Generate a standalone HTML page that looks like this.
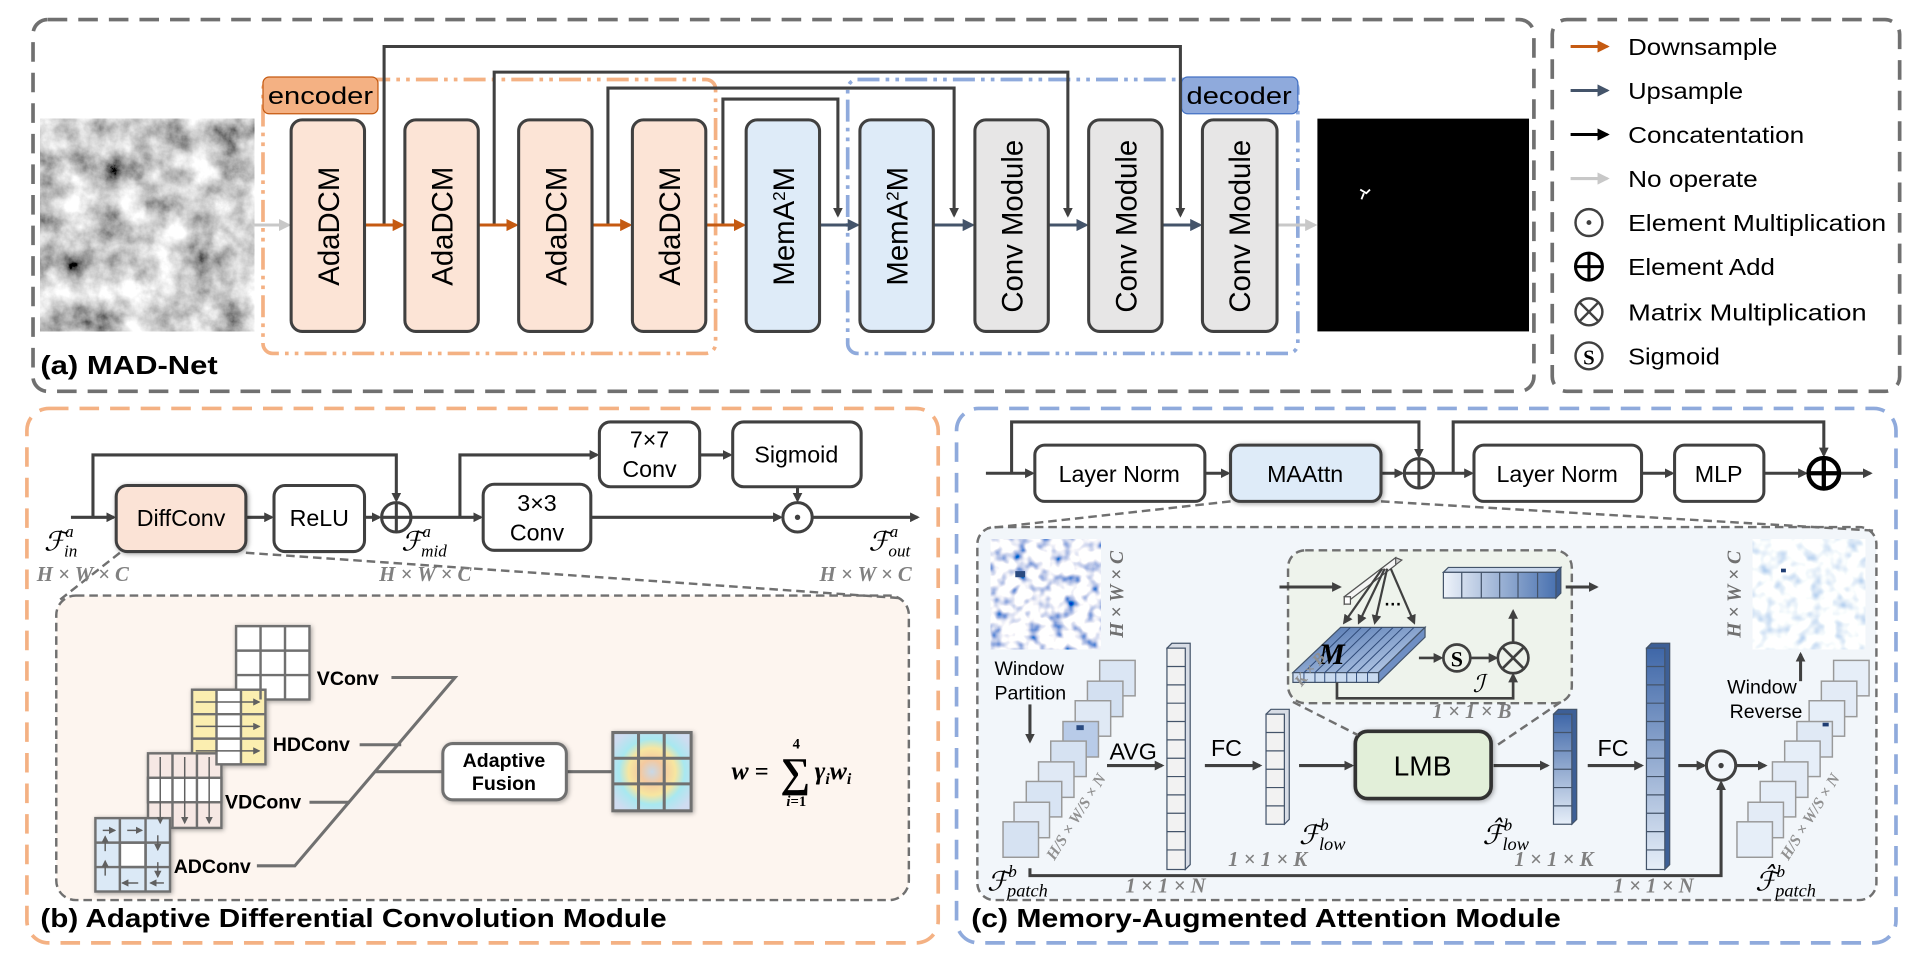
<!DOCTYPE html>
<html><head><meta charset="utf-8"><style>
html,body{margin:0;padding:0;background:#fff;}
svg{display:block;}
text{font-family:"Liberation Sans",sans-serif;}
.m text, text.m{font-family:"Liberation Serif",serif;font-style:italic;}
.sf text, text.sf{font-family:"Liberation Serif",serif;}
</style></head><body>
<svg width="1918" height="960" viewBox="0 0 1568 785" preserveAspectRatio="none" xmlns="http://www.w3.org/2000/svg">
<defs>
<marker id="ad" markerWidth="8" markerHeight="8" refX="6" refY="4" orient="auto" markerUnits="userSpaceOnUse"><path d="M0,0 L8,4 L0,8 z" fill="#404040"/></marker>
<marker id="ak" markerWidth="10" markerHeight="10" refX="8" refY="5" orient="auto" markerUnits="userSpaceOnUse"><path d="M0,0 L10,5 L0,10 z" fill="#000"/></marker>
<marker id="ao" markerWidth="10" markerHeight="10" refX="8" refY="5" orient="auto" markerUnits="userSpaceOnUse"><path d="M0,0 L10,5 L0,10 z" fill="#c55a11"/></marker>
<marker id="ab" markerWidth="10" markerHeight="10" refX="8" refY="5" orient="auto" markerUnits="userSpaceOnUse"><path d="M0,0 L10,5 L0,10 z" fill="#44546a"/></marker>
<marker id="ag" markerWidth="10" markerHeight="10" refX="8" refY="5" orient="auto" markerUnits="userSpaceOnUse"><path d="M0,0 L10,5 L0,10 z" fill="#c8c8c8"/></marker>
<marker id="as" markerWidth="6" markerHeight="6" refX="5" refY="3" orient="auto" markerUnits="userSpaceOnUse"><path d="M0,0 L6,3 L0,6 z" fill="#606060"/></marker>
<filter id="cloud" x="0" y="0" width="100%" height="100%"><feTurbulence type="fractalNoise" baseFrequency="0.04" numOctaves="5" seed="3"/><feColorMatrix type="matrix" values="1.6 0 0 0 -0.18  1.6 0 0 0 -0.18  1.6 0 0 0 -0.18  0 0 0 0 1"/></filter>
<filter id="heat" x="0" y="0" width="100%" height="100%"><feTurbulence type="fractalNoise" baseFrequency="0.1" numOctaves="2" seed="7"/><feColorMatrix type="matrix" values="-3.2 0 0 0 2.5  -2.6 0 0 0 2.2  -1.1 0 0 0 1.5  0 0 0 0 1"/></filter>
<filter id="heat2" x="0" y="0" width="100%" height="100%"><feTurbulence type="fractalNoise" baseFrequency="0.1" numOctaves="2" seed="11"/><feColorMatrix type="matrix" values="-1.4 0 0 0 1.65  -1.0 0 0 0 1.48  -0.35 0 0 0 1.16  0 0 0 0 1"/></filter>
<filter id="sh"><feDropShadow dx="1" dy="1" stdDeviation="2" flood-color="#000" flood-opacity="0.35"/></filter>
<radialGradient id="fus" cx="50%" cy="50%" r="60%"><stop offset="0" stop-color="#c8d8e8"/><stop offset="0.25" stop-color="#f4c9a0"/><stop offset="0.5" stop-color="#f7e6a0"/><stop offset="0.7" stop-color="#a8e8f0"/><stop offset="1" stop-color="#cfdcf0"/></radialGradient>
<linearGradient id="bvD" x1="0" y1="0" x2="0" y2="1"><stop offset="0" stop-color="#3f67a8"/><stop offset="1" stop-color="#e6eef8"/></linearGradient>
<linearGradient id="bvH" x1="0" y1="0" x2="1" y2="0"><stop offset="0" stop-color="#eef3fa"/><stop offset="1" stop-color="#4a72b0"/></linearGradient>
<linearGradient id="mat" x1="0" y1="0" x2="1" y2="1"><stop offset="0" stop-color="#4a70ad"/><stop offset="1" stop-color="#c5d6ee"/></linearGradient>
</defs>

<!-- ===== Panel (a) ===== -->
<rect x="27" y="16" width="1227" height="304" rx="12" fill="none" stroke="#707070" stroke-width="3" stroke-dasharray="16 9"/>
<rect x="1269" y="16" width="284" height="304" rx="12" fill="none" stroke="#707070" stroke-width="3" stroke-dasharray="16 9"/>

<rect x="33" y="97" width="175" height="174" fill="#888" filter="url(#cloud)"/>

<rect x="215" y="65" width="370" height="224" rx="8" fill="none" stroke="#f4b183" stroke-width="3" stroke-dasharray="18 5 3 5 3 5"/>
<rect x="693" y="65" width="368" height="224" rx="8" fill="none" stroke="#8faadc" stroke-width="3" stroke-dasharray="18 5 3 5 3 5"/>
<rect x="215" y="63" width="94" height="30" rx="5" fill="#f4b183" stroke="#c55a11" stroke-width="1"/>
<text x="262" y="85" font-size="20" text-anchor="middle" textLength="86" lengthAdjust="spacingAndGlyphs">encoder</text>
<rect x="966" y="63" width="95" height="30" rx="5" fill="#8faadc" stroke="#4472c4" stroke-width="1"/>
<text x="1013" y="85" font-size="20" text-anchor="middle" textLength="86" lengthAdjust="spacingAndGlyphs">decoder</text>

<g fill="none" stroke="#404040" stroke-width="2.5">
<polyline points="314,184 314,38 965,38 965,176" marker-end="url(#ad)"/>
<polyline points="404,184 404,59 873,59 873,176" marker-end="url(#ad)"/>
<polyline points="497,184 497,72 780,72 780,176" marker-end="url(#ad)"/>
<polyline points="591,184 591,81 685,81 685,176" marker-end="url(#ad)"/>
</g>
<g stroke-width="2.5">
<line x1="208" y1="184" x2="236" y2="184" stroke="#c8c8c8" marker-end="url(#ag)"/>
<line x1="298" y1="184" x2="329" y2="184" stroke="#c55a11" marker-end="url(#ao)"/>
<line x1="391" y1="184" x2="422" y2="184" stroke="#c55a11" marker-end="url(#ao)"/>
<line x1="484" y1="184" x2="515" y2="184" stroke="#c55a11" marker-end="url(#ao)"/>
<line x1="577" y1="184" x2="608" y2="184" stroke="#c55a11" marker-end="url(#ao)"/>
<line x1="670" y1="184" x2="701" y2="184" stroke="#44546a" marker-end="url(#ab)"/>
<line x1="763" y1="184" x2="795" y2="184" stroke="#44546a" marker-end="url(#ab)"/>
<line x1="857" y1="184" x2="888" y2="184" stroke="#44546a" marker-end="url(#ab)"/>
<line x1="950" y1="184" x2="981" y2="184" stroke="#44546a" marker-end="url(#ab)"/>
<line x1="1044" y1="184" x2="1075" y2="184" stroke="#c8c8c8" marker-end="url(#ag)"/>
</g>
<g stroke="#404040" stroke-width="2.5">
<rect x="238" y="98" width="60" height="173" rx="9" fill="#fce4d6"/>
<rect x="331" y="98" width="60" height="173" rx="9" fill="#fce4d6"/>
<rect x="424" y="98" width="60" height="173" rx="9" fill="#fce4d6"/>
<rect x="517" y="98" width="60" height="173" rx="9" fill="#fce4d6"/>
<rect x="610" y="98" width="60" height="173" rx="9" fill="#deebf8"/>
<rect x="703" y="98" width="60" height="173" rx="9" fill="#deebf8"/>
<rect x="797" y="98" width="60" height="173" rx="9" fill="#e7e6e6"/>
<rect x="890" y="98" width="60" height="173" rx="9" fill="#e7e6e6"/>
<rect x="983" y="98" width="61" height="173" rx="9" fill="#e7e6e6"/>
</g>
<g font-size="24" text-anchor="middle">
<text transform="translate(277,185) rotate(-90)">AdaDCM</text>
<text transform="translate(370,185) rotate(-90)">AdaDCM</text>
<text transform="translate(463,185) rotate(-90)">AdaDCM</text>
<text transform="translate(556,185) rotate(-90)">AdaDCM</text>
<text transform="translate(649,185) rotate(-90)">MemA<tspan font-size="14" baseline-shift="super">2</tspan>M</text>
<text transform="translate(742,185) rotate(-90)">MemA<tspan font-size="14" baseline-shift="super">2</tspan>M</text>
<text transform="translate(836,185) rotate(-90)">Conv Module</text>
<text transform="translate(929,185) rotate(-90)">Conv Module</text>
<text transform="translate(1022,185) rotate(-90)">Conv Module</text>
</g>
<rect x="1077" y="97" width="173" height="174" fill="#000"/>
<path d="M1112,155 l5,3 l3,-3 m-5,3 l-2,5" stroke="#fff" stroke-width="1.5" fill="none"/>
<text x="33" y="306" font-size="21" font-weight="bold" textLength="145" lengthAdjust="spacingAndGlyphs">(a) MAD-Net</text>

<g stroke-width="2.5">
<line x1="1284" y1="38" x2="1314" y2="38" stroke="#c55a11" marker-end="url(#ao)"/>
<line x1="1284" y1="74" x2="1314" y2="74" stroke="#44546a" marker-end="url(#ab)"/>
<line x1="1284" y1="110" x2="1314" y2="110" stroke="#000" marker-end="url(#ak)"/>
<line x1="1284" y1="146" x2="1314" y2="146" stroke="#c8c8c8" marker-end="url(#ag)"/>
</g>
<g fill="none" stroke="#404040" stroke-width="2">
<circle cx="1299" cy="182" r="11"/>
<circle cx="1299" cy="218" r="11" stroke="#000" stroke-width="2.5"/><path d="M1288,218 h22 M1299,207 v22" stroke="#000" stroke-width="2.5"/>
<circle cx="1299" cy="255" r="11"/><path d="M1291,247 l16,16 M1307,247 l-16,16"/>
<circle cx="1299" cy="291" r="11"/>
</g>
<circle cx="1299" cy="182" r="2" fill="#404040"/>
<text x="1299" y="298" font-size="17" font-weight="bold" text-anchor="middle" class="sf">S</text>
<g font-size="19">
<text x="1331" y="45" textLength="122" lengthAdjust="spacingAndGlyphs">Downsample</text>
<text x="1331" y="81" textLength="94" lengthAdjust="spacingAndGlyphs">Upsample</text>
<text x="1331" y="117" textLength="144" lengthAdjust="spacingAndGlyphs">Concatentation</text>
<text x="1331" y="153" textLength="106" lengthAdjust="spacingAndGlyphs">No operate</text>
<text x="1331" y="189" textLength="211" lengthAdjust="spacingAndGlyphs">Element Multiplication</text>
<text x="1331" y="225" textLength="120" lengthAdjust="spacingAndGlyphs">Element Add</text>
<text x="1331" y="262" textLength="195" lengthAdjust="spacingAndGlyphs">Matrix Multiplication</text>
<text x="1331" y="298" textLength="75" lengthAdjust="spacingAndGlyphs">Sigmoid</text>
</g>

<!-- ===== Panel (b) ===== -->
<rect x="22" y="334" width="745" height="437" rx="18" fill="none" stroke="#f4b183" stroke-width="3" stroke-dasharray="16 9"/>
<rect x="46" y="487" width="697" height="249" rx="16" fill="#fdf5ef" stroke="#707070" stroke-width="2" stroke-dasharray="7 4"/>
<g stroke="#707070" stroke-width="2" stroke-dasharray="7 4">
<line x1="98" y1="452" x2="47" y2="492"/>
<line x1="201" y1="452" x2="735" y2="489"/>
</g>
<g fill="none" stroke="#404040" stroke-width="2.5">
<line x1="58" y1="423" x2="93" y2="423" marker-end="url(#ad)"/>
<polyline points="76,423 76,372 324,372 324,409" marker-end="url(#ad)"/>
<line x1="201" y1="423" x2="222" y2="423" marker-end="url(#ad)"/>
<line x1="298" y1="423" x2="310" y2="423" marker-end="url(#ad)"/>
<line x1="336" y1="423" x2="393" y2="423" marker-end="url(#ad)"/>
<polyline points="376,423 376,372 488,372" marker-end="url(#ad)"/>
<line x1="572" y1="372" x2="597" y2="372" marker-end="url(#ad)"/>
<line x1="652" y1="398" x2="652" y2="409" marker-end="url(#ad)"/>
<line x1="483" y1="423" x2="638" y2="423" marker-end="url(#ad)"/>
<line x1="664" y1="423" x2="750" y2="423" marker-end="url(#ad)"/>
<circle cx="324" cy="423" r="12"/><path d="M312,423 h24 M324,411 v24"/>
<circle cx="652" cy="423" r="12"/>
</g>
<circle cx="652" cy="423" r="2.2" fill="#404040"/>
<g stroke="#404040" stroke-width="2.5">
<rect x="95" y="397" width="106" height="54" rx="9" fill="#fbe3d6" filter="url(#sh)"/>
<rect x="224" y="397" width="74" height="54" rx="9" fill="#fff"/>
<rect x="395" y="396" width="88" height="54" rx="9" fill="#fff"/>
<rect x="490" y="345" width="82" height="53" rx="9" fill="#fff"/>
<rect x="599" y="345" width="105" height="53" rx="9" fill="#fff"/>
</g>
<g font-size="19" text-anchor="middle">
<text x="148" y="430">DiffConv</text>
<text x="261" y="430">ReLU</text>
<text x="439" y="418">3×3</text><text x="439" y="442">Conv</text>
<text x="531" y="366">7×7</text><text x="531" y="390">Conv</text>
<text x="651" y="378">Sigmoid</text>
</g>
<g class="m" font-size="22">
<text x="36" y="450">ℱ<tspan font-size="14" dy="-11">a</tspan><tspan font-size="14" dx="-8" dy="16">in</tspan></text>
<text x="328" y="450">ℱ<tspan font-size="14" dy="-11">a</tspan><tspan font-size="14" dx="-8" dy="16">mid</tspan></text>
<text x="710" y="450">ℱ<tspan font-size="14" dy="-11">a</tspan><tspan font-size="14" dx="-8" dy="16">out</tspan></text>
</g>
<g class="m" font-size="17" font-weight="bold" fill="#808080">
<text x="30" y="475">H × W × C</text>
<text x="310" y="475">H × W × C</text>
<text x="670" y="475">H × W × C</text>
</g>
<g stroke="#707070" stroke-width="2">
<g filter="url(#sh)">
<rect x="193" y="512" width="60" height="60" fill="#fff"/>
<rect x="157" y="564" width="60" height="61" fill="#fbeeb0"/>
<rect x="121" y="616" width="60" height="61" fill="#f6e8e4"/>
<rect x="78" y="669" width="61" height="60" fill="#dbe9f6"/>
</g>
<path d="M213,512v60M233,512v60M193,532h60M193,552h60" fill="none"/>
<rect x="177" y="564" width="20" height="61" fill="#fff"/>
<path d="M157,584h60M157,604h60" fill="none"/>
<rect x="121" y="636" width="60" height="20" fill="#fff"/>
<path d="M141,616v61M161,616v61" fill="none"/>
<rect x="98" y="689" width="21" height="20" fill="#fff"/>
<path d="M98,669v60M119,669v60M78,689h61M78,709h61" fill="none"/>
</g>
<g stroke="#606060" stroke-width="1.2" fill="none">
<line x1="160" y1="574" x2="212" y2="574" marker-end="url(#as)"/>
<line x1="160" y1="594" x2="212" y2="594" marker-end="url(#as)"/>
<line x1="160" y1="614" x2="212" y2="614" marker-end="url(#as)"/>
<line x1="131" y1="619" x2="131" y2="673" marker-end="url(#as)"/>
<line x1="151" y1="619" x2="151" y2="673" marker-end="url(#as)"/>
<line x1="171" y1="619" x2="171" y2="673" marker-end="url(#as)"/>
<line x1="84" y1="679" x2="94" y2="679" marker-end="url(#as)"/>
<line x1="104" y1="679" x2="116" y2="679" marker-end="url(#as)"/>
<line x1="129" y1="683" x2="129" y2="695" marker-end="url(#as)"/>
<line x1="129" y1="705" x2="129" y2="717" marker-end="url(#as)"/>
<line x1="134" y1="722" x2="123" y2="722" marker-end="url(#as)"/>
<line x1="113" y1="722" x2="100" y2="722" marker-end="url(#as)"/>
<line x1="86" y1="716" x2="86" y2="704" marker-end="url(#as)"/>
<line x1="86" y1="696" x2="86" y2="684" marker-end="url(#as)"/>
</g>
<g font-size="16" font-weight="bold">
<text x="259" y="560">VConv</text>
<text x="223" y="614">HDConv</text>
<text x="184" y="661">VDConv</text>
<text x="142" y="714">ADConv</text>
</g>
<g fill="none" stroke="#707070" stroke-width="2.5">
<polyline points="320,554 372,554 241,708 210,708"/>
<line x1="294" y1="609" x2="328" y2="609"/>
<line x1="253" y1="656" x2="286" y2="656"/>
<line x1="306" y1="631" x2="362" y2="631"/>
<line x1="463" y1="631" x2="501" y2="631"/>
</g>
<rect x="362" y="608" width="101" height="46" rx="8" fill="#fff" stroke="#707070" stroke-width="2.5" filter="url(#sh)"/>
<text x="412" y="627" font-size="16" font-weight="bold" text-anchor="middle">Adaptive</text>
<text x="412" y="646" font-size="16" font-weight="bold" text-anchor="middle">Fusion</text>
<g filter="url(#sh)"><rect x="501" y="599" width="64" height="64" fill="url(#fus)" stroke="#707070" stroke-width="2.5"/></g>
<path d="M522,599v64M543,599v64M501,620h64M501,641h64" stroke="#707070" stroke-width="2.5" fill="none"/>
<g class="sf" font-weight="bold">
<text x="598" y="637" font-size="21" font-style="italic">w</text>
<text x="617" y="637" font-size="20">=</text>
<text x="638" y="643" font-size="34">∑</text>
<text x="651" y="612" font-size="12" text-anchor="middle">4</text>
<text x="651" y="659" font-size="12" text-anchor="middle"><tspan font-style="italic">i</tspan>=1</text>
<text x="666" y="637" font-size="21" font-style="italic">γ<tspan font-size="13" dy="4">i</tspan><tspan dy="-4">w</tspan><tspan font-size="13" dy="4">i</tspan></text>
</g>
<text x="33" y="758" font-size="21" font-weight="bold" textLength="512" lengthAdjust="spacingAndGlyphs">(b) Adaptive Differential Convolution Module</text>

<!-- ===== Panel (c) ===== -->
<rect x="782" y="334" width="768" height="437" rx="18" fill="none" stroke="#8faadc" stroke-width="3" stroke-dasharray="16 9"/>
<rect x="799" y="431" width="735" height="305" rx="14" fill="#f2f6fa" stroke="#707070" stroke-width="2" stroke-dasharray="7 4"/>
<g stroke="#707070" stroke-width="2" stroke-dasharray="7 4">
<line x1="1006" y1="410" x2="807" y2="432"/>
<line x1="1129" y1="410" x2="1534" y2="434"/>
</g>
<g fill="none" stroke="#404040" stroke-width="2.5">
<line x1="806" y1="387" x2="844" y2="387" marker-end="url(#ad)"/>
<polyline points="827,387 827,345 1160,345 1160,373" marker-end="url(#ad)"/>
<line x1="985" y1="387" x2="1004" y2="387" marker-end="url(#ad)"/>
<line x1="1129" y1="387" x2="1146" y2="387" marker-end="url(#ad)"/>
<line x1="1172" y1="387" x2="1203" y2="387" marker-end="url(#ad)"/>
<polyline points="1188,387 1188,345 1491,345 1491,372" marker-end="url(#ad)"/>
<line x1="1342" y1="387" x2="1367" y2="387" marker-end="url(#ad)"/>
<line x1="1442" y1="387" x2="1476" y2="387" marker-end="url(#ad)"/>
<line x1="1504" y1="387" x2="1529" y2="387" marker-end="url(#ad)"/>
<circle cx="1160" cy="387" r="12"/><path d="M1148,387h24M1160,375v24"/>
</g>
<circle cx="1491" cy="387" r="12.5" fill="none" stroke="#000" stroke-width="3.5"/>
<path d="M1478,387h26M1491,374v26" stroke="#000" stroke-width="3.5"/>
<g stroke="#404040" stroke-width="2.5">
<rect x="846" y="364" width="139" height="46" rx="8" fill="#fff"/>
<rect x="1006" y="364" width="123" height="46" rx="8" fill="#deebf8" filter="url(#sh)"/>
<rect x="1205" y="364" width="137" height="46" rx="8" fill="#fff"/>
<rect x="1369" y="364" width="73" height="46" rx="8" fill="#fff"/>
</g>
<g font-size="19" text-anchor="middle">
<text x="915" y="394">Layer Norm</text>
<text x="1067" y="394">MAAttn</text>
<text x="1273" y="394">Layer Norm</text>
<text x="1405" y="394">MLP</text>
</g>

<rect x="810" y="441" width="90" height="90" fill="#ddd" filter="url(#heat)" stroke="#999" stroke-width="1"/>
<rect x="1433" y="441" width="92" height="90" fill="#ddd" filter="url(#heat2)" stroke="#999" stroke-width="1"/>
<rect x="830" y="467" width="8" height="5" fill="#2a4a80"/>
<rect x="1456" y="465" width="4" height="3" fill="#1f3d73"/>
<g class="m" font-size="16" font-weight="bold" fill="#707070">
<text transform="translate(918,486) rotate(-90)" text-anchor="middle">H × W × C</text>
<text transform="translate(1423,486) rotate(-90)" text-anchor="middle">H × W × C</text>
</g>
<text x="813" y="552" font-size="16">Window</text>
<text x="813" y="572" font-size="16">Partition</text>
<line x1="842" y1="576" x2="842" y2="606" stroke="#404040" stroke-width="2.5" marker-end="url(#ad)"/>
<text x="1412" y="567" font-size="16">Window</text>
<text x="1414" y="587" font-size="16">Reverse</text>
<line x1="1472" y1="557" x2="1472" y2="535" stroke="#404040" stroke-width="2.5" marker-end="url(#ad)"/>

<g stroke="#999" stroke-width="1.2">
<rect x="899" y="540" width="29" height="29" fill="#dbe6f4"/>
<rect x="889" y="557" width="29" height="29" fill="#d3e0f1"/>
<rect x="879" y="573" width="29" height="29" fill="#e0e9f5"/>
<rect x="869" y="590" width="29" height="29" fill="#b8cbe8"/>
<rect x="859" y="606" width="29" height="29" fill="#d6e2f2"/>
<rect x="849" y="623" width="29" height="29" fill="#e0e9f5"/>
<rect x="839" y="639" width="29" height="29" fill="#d8e4f3"/>
<rect x="829" y="656" width="29" height="29" fill="#e3ebf6"/>
<rect x="820" y="672" width="29" height="29" fill="#d6e2f2"/>
<rect x="1499" y="540" width="29" height="29" fill="#e6eef8"/>
<rect x="1489" y="557" width="29" height="29" fill="#e3ebf6"/>
<rect x="1479" y="573" width="29" height="29" fill="#e6eef8"/>
<rect x="1469" y="590" width="29" height="29" fill="#e0e9f5"/>
<rect x="1459" y="606" width="29" height="29" fill="#e6eef8"/>
<rect x="1449" y="623" width="29" height="29" fill="#e3ebf6"/>
<rect x="1439" y="639" width="29" height="29" fill="#e6eef8"/>
<rect x="1429" y="656" width="29" height="29" fill="#e3ebf6"/>
<rect x="1420" y="672" width="29" height="29" fill="#e6eef8"/>
</g>
<rect x="880" y="593" width="6" height="4" fill="#2a4a80"/>
<rect x="1490" y="591" width="5" height="3" fill="#1f3d73"/>
<g class="m" font-size="13" font-weight="bold" fill="#909090">
<text transform="translate(862,704) rotate(-58)">H/S × W/S × N</text>
<text transform="translate(1462,704) rotate(-58)">H/S × W/S × N</text>
</g>

<g stroke="#44546a" stroke-width="1">
<path d="M954,530 l4,-4 h15 v181 l-4,4z" fill="#d8dde6"/>
<rect x="954" y="530" width="15" height="181" fill="#f2f2f2"/>
<path d="M954,545h15M954,560h15M954,575h15M954,590h15M954,605h15M954,620h15M954,635h15M954,650h15M954,665h15M954,680h15M954,695h15" fill="none"/>
<path d="M1035,584 l4,-4 h15 v90 l-4,4z" fill="#d8dde6"/>
<rect x="1035" y="584" width="15" height="90" fill="#f2f2f2"/>
<path d="M1035,599h15M1035,614h15M1035,629h15M1035,644h15M1035,659h15" fill="none"/>
<path d="M1270,584 l4,-4 h15 v90 l-4,4z" fill="#3d5f96"/>
<rect x="1270" y="584" width="15" height="90" fill="url(#bvD)"/>
<path d="M1270,599h15M1270,614h15M1270,629h15M1270,644h15M1270,659h15" fill="none"/>
<path d="M1346,530 l4,-4 h15 v181 l-4,4z" fill="#3d5f96"/>
<rect x="1346" y="530" width="15" height="181" fill="url(#bvD)"/>
<path d="M1346,545h15M1346,560h15M1346,575h15M1346,590h15M1346,605h15M1346,620h15M1346,635h15M1346,650h15M1346,665h15M1346,680h15M1346,695h15" fill="none"/>
</g>
<g font-size="19">
<text x="907" y="621">AVG</text>
<text x="990" y="618">FC</text>
<text x="1306" y="618">FC</text>
</g>
<g stroke="#404040" stroke-width="2.5" fill="none">
<line x1="905" y1="626" x2="950" y2="626" marker-end="url(#ad)"/>
<line x1="985" y1="626" x2="1030" y2="626" marker-end="url(#ad)"/>
<line x1="1062" y1="626" x2="1105" y2="626" marker-end="url(#ad)"/>
<line x1="1221" y1="626" x2="1265" y2="626" marker-end="url(#ad)"/>
<line x1="1298" y1="626" x2="1342" y2="626" marker-end="url(#ad)"/>
<line x1="1372" y1="626" x2="1393" y2="626" marker-end="url(#ad)"/>
<line x1="1420" y1="626" x2="1443" y2="626" marker-end="url(#ad)"/>
<polyline points="842,710 842,716 1407,716 1407,640" marker-end="url(#ad)"/>
<circle cx="1407" cy="626" r="12"/>
</g>
<circle cx="1407" cy="626" r="2.2" fill="#404040"/>
<rect x="1108" y="598" width="111" height="55" rx="10" fill="#e2efd9" stroke="#333" stroke-width="3" filter="url(#sh)"/>
<text x="1163" y="634" font-size="23" text-anchor="middle">LMB</text>

<g class="m" font-size="17" font-weight="bold" fill="#808080">
<text x="920" y="730">1 × 1 × N</text>
<text x="1319" y="730">1 × 1 × N</text>
<text x="1004" y="708">1 × 1 × K</text>
<text x="1238" y="708">1 × 1 × K</text>
<text x="1171" y="587">1 × 1 × B</text>
</g>
<g class="m" font-size="22">
<text x="1062" y="690">ℱ<tspan font-size="14" dy="-11">b</tspan><tspan font-size="15" dx="-8" dy="16">low</tspan></text>
<text x="1212" y="690">ℱ̂<tspan font-size="14" dy="-11">b</tspan><tspan font-size="15" dx="-8" dy="16">low</tspan></text>
<text x="807" y="728">ℱ<tspan font-size="14" dy="-11">b</tspan><tspan font-size="15" dx="-8" dy="16">patch</tspan></text>
<text x="1435" y="728">ℱ̂<tspan font-size="14" dy="-11">b</tspan><tspan font-size="15" dx="-8" dy="16">patch</tspan></text>
</g>

<rect x="1053" y="450" width="232" height="125" rx="14" fill="#eef3ec" stroke="#707070" stroke-width="2" stroke-dasharray="7 4"/>
<g stroke="#707070" stroke-width="2" stroke-dasharray="7 4">
<line x1="1057" y1="574" x2="1110" y2="601"/>
<line x1="1276" y1="574" x2="1223" y2="610"/>
</g>
<line x1="1046" y1="480" x2="1095" y2="480" stroke="#404040" stroke-width="2.5" marker-end="url(#ad)"/>
<path d="M1099,488 l42,-32 l5,2 l-42,32z" fill="#d0d0d0" stroke="#555" stroke-width="1"/>
<path d="M1099,488 l42,-32 v6 l-42,32z" fill="#f5f5f5" stroke="#555" stroke-width="1"/>
<path d="M1099,488 h5 v6 h-5z" fill="#fff" stroke="#555" stroke-width="1"/>
<path d="M1057,550 L1096,513 L1165,513 L1127,550z" fill="url(#mat)" stroke="#44546a" stroke-width="1"/>
<path d="M1127,550 L1165,513 v8 L1127,558z" fill="#6f8fc4" stroke="#44546a" stroke-width="1"/>
<rect x="1057" y="550" width="70" height="8" fill="#c9daf0" stroke="#44546a" stroke-width="1"/>
<g stroke="#2f4a78" stroke-width="0.8">
<path d="M1066,550l38,-37M1075,550l38,-37M1083,550l38,-37M1092,550l38,-37M1101,550l38,-37M1109,550l38,-37M1118,550l38,-37"/>
<path d="M1066,550v8M1075,550v8M1083,550v8M1092,550v8M1101,550v8M1109,550v8M1118,550v8"/>
</g>
<text x="1078" y="543" class="m" font-size="24" font-weight="bold">M</text>
<g stroke="#404040" stroke-width="1.8" fill="none">
<line x1="1130" y1="465" x2="1099" y2="509" marker-end="url(#ad)"/>
<line x1="1132" y1="465" x2="1111" y2="509" marker-end="url(#ad)"/>
<line x1="1134" y1="465" x2="1124" y2="509" marker-end="url(#ad)"/>
<line x1="1137" y1="465" x2="1156" y2="509" marker-end="url(#ad)"/>
</g>
<text x="1132" y="499" font-size="14" font-weight="bold">···</text>
<text class="m" transform="translate(1064,562) rotate(-50)" font-size="13" font-weight="bold" fill="#909090">K × B</text>
<path d="M1180,468 l4,-4 h92 l-4,4z" fill="#c8d6ea" stroke="#44546a" stroke-width="1"/>
<path d="M1272,468 l4,-4 v21 l-4,4z" fill="#3d5f96" stroke="#44546a" stroke-width="1"/>
<rect x="1180" y="468" width="92" height="21" fill="url(#bvH)" stroke="#44546a" stroke-width="1"/>
<path d="M1195,468v21M1211,468v21M1226,468v21M1241,468v21M1257,468v21" stroke="#44546a" stroke-width="1"/>
<line x1="1280" y1="480" x2="1305" y2="480" stroke="#404040" stroke-width="2.5" marker-end="url(#ad)"/>
<g stroke="#404040" stroke-width="2.2" fill="none">
<line x1="1160" y1="538" x2="1178" y2="538" marker-end="url(#ad)"/>
<circle cx="1191" cy="538" r="11"/>
<line x1="1202" y1="538" x2="1223" y2="538" marker-end="url(#ad)"/>
<circle cx="1237" cy="538" r="12.5"/><path d="M1228,529l18,18M1246,529l-18,18"/>
<line x1="1237" y1="525" x2="1237" y2="500" marker-end="url(#ad)"/>
<polyline points="1093,558 1093,571 1237,571 1237,552" marker-end="url(#ad)"/>
</g>
<text x="1191" y="545" font-size="18" font-weight="bold" text-anchor="middle" class="sf">S</text>
<text x="1204" y="566" class="m" font-size="20">ℐ</text>

<text x="794" y="758" font-size="21" font-weight="bold" textLength="482" lengthAdjust="spacingAndGlyphs">(c) Memory-Augmented Attention Module</text>
</svg>
</body></html>
